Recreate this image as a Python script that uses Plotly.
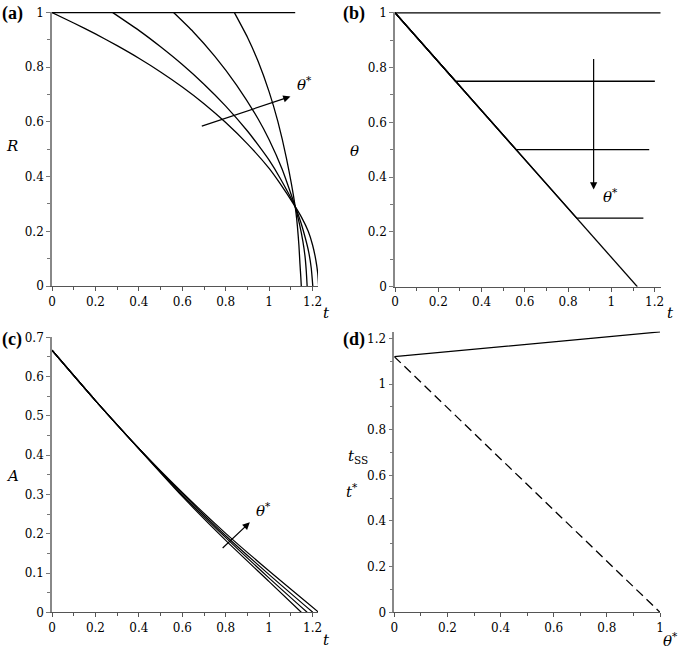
import plotly.graph_objects as go

# ---------------- data ----------------
theta_star = [0.0, 0.25, 0.5, 0.75, 1.0]
t_star = [1.12, 0.84, 0.56, 0.28, 0.0]
t_ss = [1.12, 1.148, 1.175, 1.201, 1.228]

# panel (a): R(t) for theta* = 0.25, 0.5, 0.75, 1 (theta*=0 is R=1 up to t*)
R_t_025 = [0.84, 0.9, 0.95, 1.0, 1.04, 1.08, 1.12, 1.13, 1.137, 1.142, 1.146, 1.148]
R_025 = [1, 0.91, 0.82, 0.71, 0.602, 0.466, 0.29, 0.22, 0.15, 0.08, 0.03, 0]
R_t_05 = [0.56, 0.65, 0.75, 0.85, 0.95, 1.0, 1.06, 1.12, 1.14, 1.155, 1.165, 1.171, 1.175]
R_05 = [1, 0.93, 0.84, 0.735, 0.61, 0.535, 0.427, 0.29, 0.225, 0.165, 0.11, 0.055, 0]
R_t_075 = [0.28, 0.4, 0.5, 0.6, 0.7, 0.8, 0.9, 0.95, 1.0, 1.05, 1.12, 1.145, 1.165, 1.182, 1.194, 1.201]
R_075 = [1, 0.935, 0.875, 0.81, 0.738, 0.658, 0.567, 0.515, 0.46, 0.395, 0.29, 0.235, 0.18, 0.125, 0.065, 0]
R_t_1 = [0, 0.1, 0.2, 0.3, 0.4, 0.5, 0.6, 0.7, 0.8, 0.9, 1.0, 1.05, 1.12, 1.15, 1.18, 1.2, 1.215, 1.224, 1.228]
R_1 = [1, 0.962, 0.922, 0.879, 0.833, 0.783, 0.728, 0.667, 0.598, 0.52, 0.43, 0.375, 0.29, 0.25, 0.2, 0.15, 0.095, 0.045, 0]

# panel (c): A(t)
A_t = [0, 0.2, 0.4, 0.6, 0.8, 1.0]
A_025 = [0.667, 0.539, 0.416, 0.295, 0.183, 0.078, 0]
A_05 = [0.667, 0.539, 0.417, 0.298, 0.19, 0.087, 0]
A_075 = [0.667, 0.539, 0.417, 0.302, 0.195, 0.096, 0]
A_1 = [0.667, 0.539, 0.417, 0.305, 0.201, 0.105, 0]

# ---------------- figure ----------------
W, H = 685, 652
def px(x):
    return x / W
def py(y):
    return 1 - y / H

fig = go.Figure()
LINE = dict(color="black", width=1.3)
CURVE = dict(color="black", width=1.3, shape="spline", smoothing=0.5)
SER = "DejaVu Serif"
LAB = "Liberation Serif"

# (a)
fig.add_trace(go.Scatter(x=[0, t_star[0]], y=[1, 1], mode="lines", line=LINE, xaxis="x", yaxis="y"))
for tt, rr in [(R_t_025, R_025), (R_t_05, R_05), (R_t_075, R_075), (R_t_1, R_1)]:
    fig.add_trace(go.Scatter(x=tt, y=rr, mode="lines", line=CURVE, xaxis="x", yaxis="y"))

# (b)
for th, ts, te in zip(theta_star, t_star, t_ss):
    fig.add_trace(go.Scatter(x=[0, ts, te], y=[1, th, th], mode="lines", line=LINE, xaxis="x2", yaxis="y2"))

# (c)
for k, aa in zip([1, 2, 3, 4], [A_025, A_05, A_075, A_1]):
    fig.add_trace(go.Scatter(x=A_t + [t_ss[k]], y=aa, mode="lines", line=dict(color="black", width=1.2, shape="spline", smoothing=0.6), xaxis="x3", yaxis="y3"))

# (d)
fig.add_trace(go.Scatter(x=theta_star, y=t_ss, mode="lines", line=LINE, xaxis="x4", yaxis="y4"))
fig.add_trace(go.Scatter(x=theta_star, y=t_star, mode="lines", line=dict(color="black", width=1.3, dash="9px,5px"), xaxis="x4", yaxis="y4"))

def xax(domain, rng, anchor, dtick=0.2, minor=0.1):
    return dict(domain=domain, range=rng, anchor=anchor, dtick=dtick, tick0=0, showgrid=False, zeroline=False,
                showline=True, linecolor="#555", linewidth=1.2, ticks="outside", ticklen=4, tickcolor="#555",
                tickfont=dict(family=SER, size=12, color="black"), automargin=False,
                minor=dict(dtick=minor, ticks="outside", ticklen=3, tickcolor="#555"))

def yax(domain, rng, anchor, dtick=0.2, minor=0.1):
    return dict(domain=domain, range=rng, anchor=anchor, dtick=dtick, tick0=0, showgrid=False, zeroline=False,
                showline=True, linecolor="#888", linewidth=1.6, ticks="outside", ticklen=4, tickcolor="#777",
                tickfont=dict(family=SER, size=12, color="black"), automargin=False,
                minor=dict(dtick=minor, ticks="outside", ticklen=3, tickcolor="#777"))

fig.update_layout(
    width=W, height=H, margin=dict(l=0, r=0, t=0, b=0),
    paper_bgcolor="white", plot_bgcolor="white", showlegend=False,
    font=dict(family=SER, color="black"),
    xaxis=xax([px(52), px(318)], [0, 1.225], "y"),
    yaxis=yax([py(286), py(11.5)], [0, 1.004], "x"),
    xaxis2=xax([px(395), px(660.7)], [0, 1.228], "y2"),
    yaxis2=yax([py(286.7), py(12.2)], [0, 1.002], "x2"),
    xaxis3=xax([px(52), px(318)], [0, 1.225], "y3"),
    yaxis3=yax([py(612.3), py(337.3)], [0, 0.7], "x3", dtick=0.1, minor=0.05),
    xaxis4=xax([px(394.3), px(660)], [0, 1.0], "y4"),
    yaxis4=yax([py(612.3), py(331.5)], [0, 1.23], "x4"),
)

ann = []
def txt(x, y, s, size=15, xanchor="center", yanchor="middle", family=SER):
    ann.append(dict(x=px(x), y=py(y), xref="paper", yref="paper", text=s, showarrow=False,
                    font=dict(family=family, size=size, color="black"), xanchor=xanchor, yanchor=yanchor))

# panel labels
txt(0, 14, "<b>(a)</b>", size=18, xanchor="left", family=LAB)
txt(341, 14, "<b>(b)</b>", size=18, xanchor="left", family=LAB)
txt(0, 339, "<b>(c)</b>", size=18, xanchor="left", family=LAB)
txt(341, 339, "<b>(d)</b>", size=18, xanchor="left", family=LAB)
# axis titles
txt(12, 146, "<i>R</i>")
txt(326, 313, "<i>t</i>")
txt(354, 151, "<i>θ</i>")
txt(670, 313, "<i>t</i>")
txt(12, 476, "<i>A</i>")
txt(326, 640, "<i>t</i>")
txt(358, 457, "<i>t</i><sub>SS</sub>")
txt(352, 491, "<i>t</i><sup>*</sup>")
txt(670, 640, "<i>θ</i><sup>*</sup>")

# arrows
arrow = dict(showarrow=True, arrowhead=2, arrowsize=1.2, arrowwidth=1.2, arrowcolor="black", text="")
ann.append(dict(arrow, x=1.098, y=0.693, ax=0.683, ay=0.583, xref="x", yref="y", axref="x", ayref="y"))
ann.append(dict(x=1.165, y=0.738, xref="x", yref="y", text="<i>θ</i><sup>*</sup>", showarrow=False,
                font=dict(family=SER, size=15, color="black")))
ann.append(dict(arrow, x=0.918, y=0.355, ax=0.918, ay=0.837, xref="x2", yref="y2", axref="x2", ayref="y2"))
ann.append(dict(x=0.995, y=0.33, xref="x2", yref="y2", text="<i>θ</i><sup>*</sup>", showarrow=False,
                font=dict(family=SER, size=15, color="black")))
ann.append(dict(arrow, x=0.911, y=0.229, ax=0.779, ay=0.16, xref="x3", yref="y3", axref="x3", ayref="y3"))
ann.append(dict(x=0.975, y=0.26, xref="x3", yref="y3", text="<i>θ</i><sup>*</sup>", showarrow=False,
                font=dict(family=SER, size=15, color="black")))

fig.update_layout(annotations=ann)
fig.write_html("out.html", config={"displayModeBar": False},
               post_script="document.body.style.margin='0px';")
